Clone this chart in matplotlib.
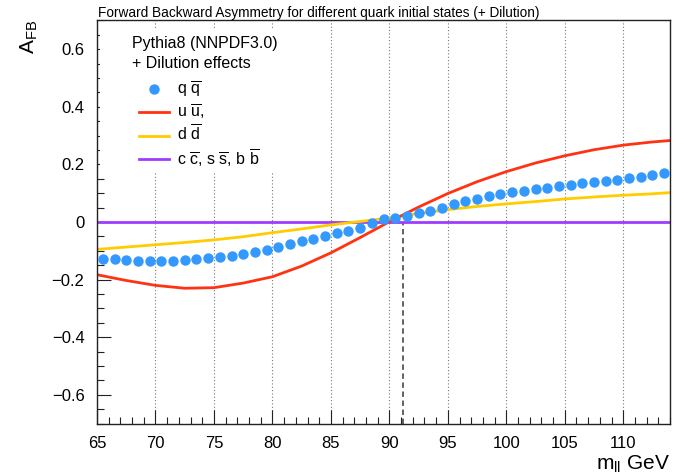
import matplotlib
matplotlib.use('Agg')
import matplotlib.pyplot as plt
from matplotlib.lines import Line2D
from matplotlib.patches import Rectangle
from matplotlib.ticker import MultipleLocator, FuncFormatter

plt.rcParams['font.family'] = ['Liberation Sans', 'DejaVu Sans']
plt.rcParams['mathtext.fontset'] = 'custom'
plt.rcParams['mathtext.rm'] = 'Liberation Sans'
plt.rcParams['mathtext.it'] = 'Liberation Sans:italic'
plt.rcParams['mathtext.bf'] = 'Liberation Sans:bold'

# ---------------- data ----------------
title = "Forward Backward Asymmetry for different quark initial states (+ Dilution)"
header = ["Pythia8 (NNPDF3.0)", "+ Dilution effects"]

qq_mass = [65.5, 66.5, 67.5, 68.5, 69.5, 70.5, 71.5, 72.5, 73.5, 74.5,
           75.5, 76.5, 77.5, 78.5, 79.5, 80.5, 81.5, 82.5, 83.5, 84.5,
           85.5, 86.5, 87.5, 88.5, 89.5, 90.5, 91.5, 92.5, 93.5, 94.5,
           95.5, 96.5, 97.5, 98.5, 99.5, 100.5, 101.5, 102.5, 103.5, 104.5,
           105.5, 106.5, 107.5, 108.5, 109.5, 110.5, 111.5, 112.5, 113.5]
qq_afb = [-0.130, -0.129, -0.131, -0.135, -0.137, -0.136, -0.135, -0.133, -0.129, -0.124,
          -0.121, -0.117, -0.111, -0.105, -0.097, -0.087, -0.076, -0.066, -0.058, -0.047,
          -0.037, -0.031, -0.020, -0.002, 0.009, 0.014, 0.021, 0.031, 0.038, 0.049,
          0.062, 0.073, 0.079, 0.090, 0.096, 0.103, 0.108, 0.114, 0.118, 0.124,
          0.129, 0.135, 0.140, 0.143, 0.147, 0.153, 0.158, 0.163, 0.169]

curve_mass = [65, 67.5, 70, 72.5, 75, 77.5, 80, 82.5, 85, 87.5, 90,
              92.5, 95, 97.5, 100, 102.5, 105, 107.5, 110, 112.5, 114]
uu_afb = [-0.183, -0.203, -0.220, -0.230, -0.228, -0.212, -0.190, -0.153, -0.107, -0.054, 0.001,
          0.052, 0.099, 0.140, 0.175, 0.205, 0.230, 0.251, 0.267, 0.278, 0.283]
dd_afb = [-0.095, -0.087, -0.079, -0.071, -0.062, -0.051, -0.037, -0.024, -0.010, 0.002, 0.014,
          0.030, 0.043, 0.054, 0.063, 0.071, 0.080, 0.087, 0.093, 0.098, 0.102]

heavy_mass = [65, 114]
heavy_afb = [0.0, 0.0]

mz = 91.19

labels = [r"q $\overline{\mathrm{q}}$",
          r"u $\overline{\mathrm{u}}$,",
          r"d $\overline{\mathrm{d}}$",
          r"c $\overline{\mathrm{c}}$, s $\overline{\mathrm{s}}$, b $\overline{\mathrm{b}}$"]

c_qq = '#3399ff'
c_uu = '#ff3311'
c_dd = '#ffcc00'
c_hv = '#9d3cff'

# ---------------- figure ----------------
fig = plt.figure(figsize=(6.79, 4.74), dpi=100)
ax = fig.add_axes([0.1429, 0.1063, 0.8439, 0.8506])

ax.set_xlim(65, 114)
ax.set_ylim(-0.7, 0.7)

ax.set_axisbelow(True)
ax.xaxis.grid(True, which='major', linestyle=(0, (1, 2)), color='#777777', lw=0.8)

ax.vlines(mz, -0.7, 0.0, colors='#555555', linestyles=(0, (3, 2)), lw=1.3, zorder=1.2)

ax.plot(heavy_mass, heavy_afb, color=c_hv, lw=2, zorder=2)
ax.plot(curve_mass, dd_afb, color=c_dd, lw=2, zorder=2.1)
ax.plot(curve_mass, uu_afb, color=c_uu, lw=2, zorder=2.2)
ax.plot(qq_mass, qq_afb, 'o', color=c_qq, ms=7.5, mec='none', zorder=3)

# white box behind the legend block
ax.add_patch(Rectangle((0.005, 0.625), 0.332, 0.355, transform=ax.transAxes,
                       facecolor='white', edgecolor='none', zorder=1))

ax.text(0.061, 0.943, header[0], transform=ax.transAxes, fontsize=11.5,
        va='center', ha='left', zorder=4)
ax.text(0.061, 0.893, header[1], transform=ax.transAxes, fontsize=11.5,
        va='center', ha='left', zorder=4)

handles = [Line2D([], [], ls='none', marker='o', color=c_qq, ms=7.5, mec='none'),
           Line2D([], [], color=c_uu, lw=2),
           Line2D([], [], color=c_dd, lw=2),
           Line2D([], [], color=c_hv, lw=2)]
leg = ax.legend(handles, labels, loc='upper left', bbox_to_anchor=(0.0733, 0.853),
                frameon=False, fontsize=11.5, handlelength=1.9, handletextpad=0.45,
                borderpad=0, borderaxespad=0, labelspacing=0.17)
leg.set_zorder(4)

# axes styling
for s in ax.spines.values():
    s.set_linewidth(1.0)
    s.set_color('#222222')
ax.xaxis.set_major_locator(MultipleLocator(5))
ax.xaxis.set_minor_locator(MultipleLocator(1))
ax.yaxis.set_major_locator(MultipleLocator(0.2))
ax.yaxis.set_minor_locator(MultipleLocator(0.05))
ax.yaxis.set_major_formatter(FuncFormatter(lambda v, p: ('%g' % round(v, 2)).replace('-', '\u2212')))
ax.tick_params(which='both', direction='in', top=False, right=False, width=0.8,
               color='#222222', labelsize=12)
ax.tick_params(which='major', length=10)
ax.tick_params(which='minor', length=5)
ax.tick_params(axis='x', pad=9)
ax.tick_params(axis='y', pad=9)

ax.set_xlabel(r"m$_{\mathrm{ll}}$ GeV", fontsize=15, loc='right')
ax.xaxis.set_label_coords(1.0, -0.075)
ax.set_ylabel(r"A$_{\mathrm{FB}}$", fontsize=15, loc='top')
ax.yaxis.set_label_coords(-0.1, 1.0)

fig.text(0.144, 0.972, title, fontsize=9.8, va='center', ha='left')

fig.savefig('out.png', dpi=100)
